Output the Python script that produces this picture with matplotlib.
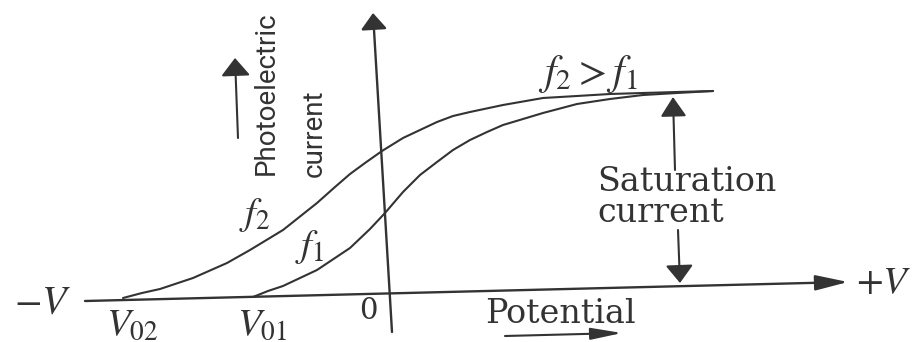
import matplotlib
matplotlib.use('Agg')
import matplotlib.pyplot as plt

plt.rcParams['mathtext.fontset'] = 'stix'

# photocurrent vs potential for two frequencies (arbitrary units)
f2_potential = [-2.67, -2.48, -2.30, -1.97, -1.63, -1.40, -1.07, -0.73, -0.55, -0.40,
                -0.25, -0.08, 0.13, 0.30, 0.47, 0.63, 0.80, 1.13, 1.53, 1.87,
                2.20, 2.53, 2.87, 3.23]
f2_current = [-0.05, 0.00, 0.04, 0.15, 0.30, 0.43, 0.63, 0.90, 1.06, 1.19,
              1.30, 1.42, 1.55, 1.63, 1.71, 1.77, 1.81, 1.88, 1.95, 1.97,
              1.99, 2.00, 2.01, 2.02]
f1_potential = [-1.37, -1.22, -1.07, -0.73, -0.40, -0.20, -0.05, 0.13, 0.30, 0.47,
                0.63, 0.80, 0.97, 1.13, 1.53, 1.87, 2.20, 2.53, 2.87, 3.23]
f1_current = [-0.04, 0.02, 0.07, 0.23, 0.45, 0.64, 0.80, 1.01, 1.18, 1.31,
              1.43, 1.53, 1.61, 1.68, 1.80, 1.89, 1.94, 1.98, 2.00, 2.02]

stopping_labels = ['$V_{02}$', '$V_{01}$']
stopping_potential = [f2_potential[0], f1_potential[0]]
saturation = f2_current[-1]

ink = '#333333'

fig = plt.figure(figsize=(9.15, 3.42), dpi=100)
ax = fig.add_axes([0, 0, 1, 1])
ax.set_xlim(-3.90, 5.25)
ax.set_ylim(-0.49, 2.93)
ax.axis('off')


def arrow(tail, tip, hl, hw, lw=1.5):
    ax.annotate('', xy=tip, xytext=tail,
                arrowprops=dict(arrowstyle=f'-|>,head_length={hl},head_width={hw}',
                                mutation_scale=10, lw=lw, color=ink,
                                shrinkA=0, shrinkB=0))


# axes
arrow((-3.05, -0.08), (4.58, 0.11), 2.0, 0.47, lw=1.7)
arrow((0.02, -0.39), (-0.17, 2.80), 1.0, 0.8, lw=1.7)

# curves
ax.plot(f2_potential, f2_current, color=ink, lw=1.5, solid_capstyle='round')
ax.plot(f1_potential, f1_current, color=ink, lw=1.5, solid_capstyle='round')

# saturation current arrows
arrow((2.85, 1.23), (2.83, saturation - 0.06), 1.2, 0.8)
arrow((2.88, 0.63), (2.90, 0.10), 1.1, 0.85)

# direction arrows next to the axis titles
arrow((-1.52, 1.55), (-1.55, 2.35), 1.1, 0.9)
arrow((1.15, -0.43), (2.32, -0.40), 1.9, 0.36)

serif = 'DejaVu Serif'
ax.text(-3.47, -0.10, '$-V$', fontsize=29, color=ink, ha='center', va='center')
ax.text(4.94, 0.11, '$+V$', fontsize=28, color=ink, ha='center', va='center')
ax.text(-0.22, -0.18, '0', fontsize=21, family=serif, color=ink, ha='center', va='center')
for lab, v in zip(stopping_labels, stopping_potential):
    ax.text(v + 0.09, -0.12, lab, fontsize=28, color=ink, ha='center', va='top')

ax.text(1.70, -0.21, 'Potential', fontsize=24, family=serif, color=ink,
        ha='center', va='center')
ax.text(1.98, 2.19, r'$f_2 > f_1$', fontsize=30, color=ink, ha='center', va='center')
ax.text(-1.35, 0.78, r'$f_2$', fontsize=28, color=ink, ha='center', va='center')
ax.text(-0.80, 0.46, r'$f_1$', fontsize=28, color=ink, ha='center', va='center')

ax.text(2.07, 1.11, 'Saturation', fontsize=24, family=serif, color=ink,
        ha='left', va='center')
ax.text(2.07, 0.80, 'current', fontsize=24, family=serif, color=ink,
        ha='left', va='center')

sans = ['Roboto', 'DejaVu Sans']
ax.text(-1.24, 1.18, 'Photoelectric', fontsize=20, family=sans, color=ink,
        rotation=90, ha='center', va='bottom')
ax.text(-0.76, 1.16, 'current', fontsize=20, family=sans, color=ink,
        rotation=90, ha='center', va='bottom')

fig.savefig('out.png', dpi=100)
